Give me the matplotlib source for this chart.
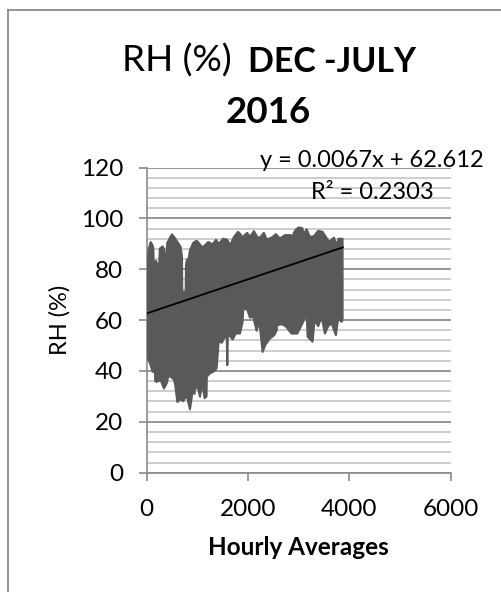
import numpy as np
from matplotlib import pyplot as plt
from matplotlib.lines import Line2D
from matplotlib.ticker import MultipleLocator

W, H = 501, 592

# top edge of the RH trace
upper_hours = [4, 25, 38, 82, 121, 135, 142, 187, 215, 227, 245, 262, 319, 345, 359, 385, 410, 463, 503,
               556, 621, 674, 700, 706, 773, 780, 799, 830, 858, 923, 990, 1055, 1070, 1081, 1090, 1120,
               1219, 1305, 1371, 1426, 1515, 1594, 1647, 1726, 1805, 1858, 1877, 1988, 2041, 2120,
               2185, 2238, 2317, 2370, 2469, 2554, 2633, 2731, 2844, 2890, 2896, 2902, 2935, 2994, 3073,
               3107, 3160, 3225, 3304, 3389, 3475, 3541, 3606, 3698, 3751, 3790, 3870]
upper_rh = [77.6, 78.0, 87.5, 90.7, 89.4, 88.0, 82.2, 83.3, 82.0, 78.3, 78.0, 88.1, 89.0, 88.0, 84.6, 84.0,
            90.4, 92.4, 93.7, 92.4, 90.4, 88.8, 85.0, 71.0, 71.0, 82.0, 83.8, 84.0, 87.5, 90.4, 91.2, 89.8,
            89.0, 82.2, 89.0, 88.8, 90.7, 89.8, 91.6, 90.0, 92.0, 91.6, 89.4, 92.7, 94.7, 93.7, 92.4,
            94.3, 92.7, 95.0, 92.7, 92.4, 94.3, 91.7, 92.4, 93.8, 92.1, 93.4, 93.4, 93.0, 89.9, 94.0,
            95.3, 96.4, 96.2, 93.8, 95.7, 92.7, 93.0, 95.1, 94.7, 92.7, 90.7, 92.4, 89.5, 92.0, 92.0]

# bottom edge of the RH trace
lower_hours = [4, 69, 122, 150, 161, 172, 201, 280, 345, 398, 438, 520, 529, 538, 568, 608, 661, 726, 792,
               858, 911, 950, 957, 964, 1002, 1055, 1100, 1148, 1185, 1195, 1205, 1252, 1318, 1384, 1424,
               1489, 1542, 1585, 1594, 1603, 1633, 1700, 1765, 1844, 1897, 1909, 1988, 2041, 2106, 2173,
               2225, 2292, 2344, 2436, 2521, 2572, 2580, 2588, 2667, 2746, 2864, 2975, 3092, 3160, 3180,
               3278, 3317, 3389, 3456, 3521, 3586, 3653, 3738, 3783, 3850, 3870]
lower_rh = [45.6, 43.0, 39.7, 39.5, 44.0, 36.0, 35.7, 36.4, 33.1, 35.1, 38.4, 37.0, 43.0, 37.0, 34.4, 27.8,
            28.8, 28.1, 30.5, 24.9, 32.0, 31.0, 43.7, 33.0, 34.4, 29.9, 35.0, 29.3, 30.0, 44.0, 38.0, 39.1,
            39.7, 41.0, 51.5, 51.1, 53.4, 53.0, 42.3, 53.0, 54.1, 52.4, 54.8, 54.7, 59.3, 64.6, 64.2,
            61.0, 61.3, 55.8, 59.7, 47.5, 50.2, 52.8, 54.1, 56.0, 69.0, 58.0, 58.4, 57.6, 54.7, 54.7,
            59.3, 62.6, 53.5, 51.5, 60.0, 57.6, 61.3, 54.7, 57.6, 58.7, 54.1, 60.6, 59.3, 60.0]

trend_hours = [0, 3875]
trend_rh = [62.6, 88.6]

x_ticks = [0, 2000, 4000, 6000]
y_ticks = [0, 20, 40, 60, 80, 100, 120]

plt.rcParams['font.family'] = ['Lato', 'DejaVu Sans']


def fx(px):
    return px / W


def fy(py):
    return 1 - py / H


fig = plt.figure(figsize=(W / 100, H / 100), dpi=100)
ax = fig.add_axes([fx(146.5), fy(472.7), (450.5 - 146.5) / W, (472.7 - 167.5) / H])

ax.set_xlim(0, 6000)
ax.set_ylim(0, 120)
ax.set_xticks(x_ticks)
ax.set_yticks(y_ticks)
ax.yaxis.set_minor_locator(MultipleLocator(4))
ax.tick_params(axis='y', which='minor', length=0)
ax.tick_params(axis='both', which='major', length=5.8, width=1.2, color='#8a8a8a',
               labelsize=17.5, pad=11, labelcolor='black')
ax.tick_params(axis='x', which='major', pad=13)
ax.grid(True, axis='y', which='major', color='#8e8e8e', lw=1.3)
ax.grid(True, axis='y', which='minor', color='#c9c9c9', lw=1.3)
ax.set_axisbelow(True)
for side in ['top', 'right']:
    ax.spines[side].set_visible(False)
for side in ['left', 'bottom']:
    ax.spines[side].set_color('#8a8a8a')
    ax.spines[side].set_linewidth(1.2)

# the hourly trace is so dense it reads as a solid band
ax.fill(np.r_[upper_hours, lower_hours[::-1]], np.r_[upper_rh, lower_rh[::-1]],
        facecolor='#595959', edgecolor='#595959', lw=1.5, joinstyle='round', zorder=3)
ax.plot(trend_hours, trend_rh, color='black', lw=1.3, zorder=4)

ax.set_ylabel('RH (%)', fontsize=17)
ax.yaxis.set_label_coords(fx(71), fy(320), transform=fig.transFigure)
ax.set_xlabel('Hourly Averages', fontsize=17.5, fontweight='bold')
ax.xaxis.set_label_coords(fx(298), fy(555), transform=fig.transFigure)
ax.xaxis.label.set_va('baseline')

# title is half regular, half bold
fig.text(fx(122), fy(72), 'RH (%)', fontsize=26.5, va='baseline', ha='left')
fig.text(fx(248), fy(72), 'DEC -JULY', fontsize=24.5, va='baseline', ha='left', fontweight='bold')
fig.text(fx(268.5), fy(123), '2016', fontsize=26.5, va='baseline', ha='center', fontweight='bold')

fig.text(fx(484), fy(167), 'y = 0.0067x + 62.612', fontsize=17, va='baseline', ha='right', zorder=5)
fig.text(fx(434), fy(199), 'R² = 0.2303', fontsize=17, va='baseline', ha='right', zorder=5)

# chart frame, runs off the right and bottom of the picture
fig.add_artist(Line2D([fx(7.5), fx(7.5)], [0, fy(9.5)], color='#8a8a8a', lw=1.3))
fig.add_artist(Line2D([fx(7.5), 1], [fy(9.5), fy(9.5)], color='#8a8a8a', lw=1.3))

fig.savefig('out.png', dpi=100)
